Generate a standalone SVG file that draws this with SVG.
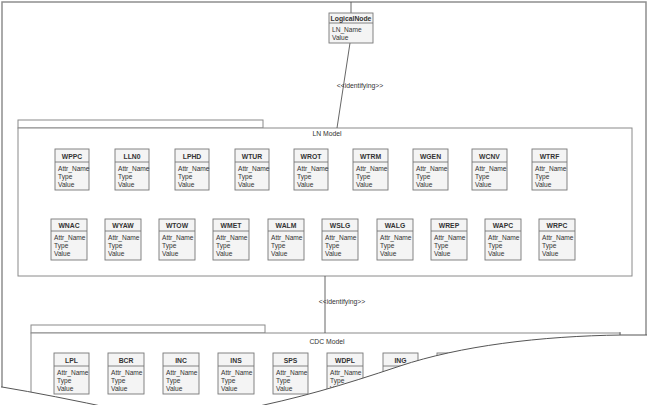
<svg xmlns="http://www.w3.org/2000/svg" width="648" height="405" viewBox="0 0 648 405">
<style>
text{font-family:"Liberation Sans",Arial,sans-serif;fill:#333;}
.nm{font-size:6.8px;font-weight:bold;text-anchor:middle;}
.at{font-size:6.6px;}
.lbl{font-size:6.8px;}
.box{fill:#f4f4f4;stroke:#777;stroke-width:0.9;}
.div{stroke:#777;stroke-width:0.9;}
.cont{fill:#fff;stroke:#8a8a8a;stroke-width:1;}
.frame{fill:none;stroke:#8f8f8f;stroke-width:1.5;}
.conn{fill:none;stroke:#555;stroke-width:0.9;}
.torn{fill:none;stroke:#555;stroke-width:1;}
</style>
<rect width="648" height="405" fill="#fff"/>
<g id="frame">
<path class="frame" d="M2 405 V2 H646 V340"/>
</g>
<g id="ln-model">
<rect class="cont" x="18" y="120" width="245" height="8"/>
<rect class="cont" x="18" y="128" width="614" height="148"/>
<text class="lbl" x="327" y="136" text-anchor="middle">LN Model</text>
</g>
<g id="cdc-model">
<rect class="cont" x="31" y="325" width="234" height="8"/>
<rect class="cont" x="31" y="333" width="589" height="80"/>
<text class="lbl" x="327" y="344" text-anchor="middle">CDC Model</text>
</g>
<g id="connectors">
<line class="conn" x1="351" y1="2" x2="351" y2="13"/>
<line class="conn" x1="350" y1="43" x2="337" y2="128"/>
<text class="lbl" x="360" y="88" text-anchor="middle">&lt;&lt;identifying&gt;&gt;</text>
<line class="conn" x1="325" y1="276" x2="325" y2="333"/>
<text class="lbl" x="342" y="304" text-anchor="middle">&lt;&lt;identifying&gt;&gt;</text>
</g>
<g id="LogicalNode" transform="translate(329,13)">
<rect class="box" width="44" height="30"/><line class="div" x1="0" y1="10" x2="44" y2="10"/>
<text class="nm" x="22" y="7.5">LogicalNode</text>
<text class="at" x="3" y="19">LN_Name</text><text class="at" x="3" y="26.5">Value</text>
</g>
<!-- LN row 1 -->
<g id="WPPC" transform="translate(55,149)"><rect class="box" width="34" height="41"/><line class="div" x1="0" y1="13" x2="34" y2="13"/><text class="nm" x="17" y="9.5">WPPC</text><text class="at" x="3" y="22">Attr_Name</text><text class="at" x="3" y="30">Type</text><text class="at" x="3" y="37.5">Value</text></g>
<g id="LLN0" transform="translate(115,149)"><rect class="box" width="34" height="41"/><line class="div" x1="0" y1="13" x2="34" y2="13"/><text class="nm" x="17" y="9.5">LLN0</text><text class="at" x="3" y="22">Attr_Name</text><text class="at" x="3" y="30">Type</text><text class="at" x="3" y="37.5">Value</text></g>
<g id="LPHD" transform="translate(175,149)"><rect class="box" width="34" height="41"/><line class="div" x1="0" y1="13" x2="34" y2="13"/><text class="nm" x="17" y="9.5">LPHD</text><text class="at" x="3" y="22">Attr_Name</text><text class="at" x="3" y="30">Type</text><text class="at" x="3" y="37.5">Value</text></g>
<g id="WTUR" transform="translate(235,149)"><rect class="box" width="34" height="41"/><line class="div" x1="0" y1="13" x2="34" y2="13"/><text class="nm" x="17" y="9.5">WTUR</text><text class="at" x="3" y="22">Attr_Name</text><text class="at" x="3" y="30">Type</text><text class="at" x="3" y="37.5">Value</text></g>
<g id="WROT" transform="translate(294,149)"><rect class="box" width="34" height="41"/><line class="div" x1="0" y1="13" x2="34" y2="13"/><text class="nm" x="17" y="9.5">WROT</text><text class="at" x="3" y="22">Attr_Name</text><text class="at" x="3" y="30">Type</text><text class="at" x="3" y="37.5">Value</text></g>
<g id="WTRM" transform="translate(353,149)"><rect class="box" width="35" height="41"/><line class="div" x1="0" y1="13" x2="35" y2="13"/><text class="nm" x="17.5" y="9.5">WTRM</text><text class="at" x="3" y="22">Attr_Name</text><text class="at" x="3" y="30">Type</text><text class="at" x="3" y="37.5">Value</text></g>
<g id="WGEN" transform="translate(413,149)"><rect class="box" width="35" height="41"/><line class="div" x1="0" y1="13" x2="35" y2="13"/><text class="nm" x="17.5" y="9.5">WGEN</text><text class="at" x="3" y="22">Attr_Name</text><text class="at" x="3" y="30">Type</text><text class="at" x="3" y="37.5">Value</text></g>
<g id="WCNV" transform="translate(472,149)"><rect class="box" width="35" height="41"/><line class="div" x1="0" y1="13" x2="35" y2="13"/><text class="nm" x="17.5" y="9.5">WCNV</text><text class="at" x="3" y="22">Attr_Name</text><text class="at" x="3" y="30">Type</text><text class="at" x="3" y="37.5">Value</text></g>
<g id="WTRF" transform="translate(532,149)"><rect class="box" width="35" height="41"/><line class="div" x1="0" y1="13" x2="35" y2="13"/><text class="nm" x="17.5" y="9.5">WTRF</text><text class="at" x="3" y="22">Attr_Name</text><text class="at" x="3" y="30">Type</text><text class="at" x="3" y="37.5">Value</text></g>
<!-- LN row 2 -->
<g id="WNAC" transform="translate(51,219)"><rect class="box" width="36" height="41"/><line class="div" x1="0" y1="12" x2="36" y2="12"/><text class="nm" x="18" y="9">WNAC</text><text class="at" x="3" y="21">Attr_Name</text><text class="at" x="3" y="29">Type</text><text class="at" x="3" y="36.5">Value</text></g>
<g id="WYAW" transform="translate(105,219)"><rect class="box" width="36" height="41"/><line class="div" x1="0" y1="12" x2="36" y2="12"/><text class="nm" x="18" y="9">WYAW</text><text class="at" x="3" y="21">Attr_Name</text><text class="at" x="3" y="29">Type</text><text class="at" x="3" y="36.5">Value</text></g>
<g id="WTOW" transform="translate(159,219)"><rect class="box" width="36" height="41"/><line class="div" x1="0" y1="12" x2="36" y2="12"/><text class="nm" x="18" y="9">WTOW</text><text class="at" x="3" y="21">Attr_Name</text><text class="at" x="3" y="29">Type</text><text class="at" x="3" y="36.5">Value</text></g>
<g id="WMET" transform="translate(213,219)"><rect class="box" width="36" height="41"/><line class="div" x1="0" y1="12" x2="36" y2="12"/><text class="nm" x="18" y="9">WMET</text><text class="at" x="3" y="21">Attr_Name</text><text class="at" x="3" y="29">Type</text><text class="at" x="3" y="36.5">Value</text></g>
<g id="WALM" transform="translate(268,219)"><rect class="box" width="36" height="41"/><line class="div" x1="0" y1="12" x2="36" y2="12"/><text class="nm" x="18" y="9">WALM</text><text class="at" x="3" y="21">Attr_Name</text><text class="at" x="3" y="29">Type</text><text class="at" x="3" y="36.5">Value</text></g>
<g id="WSLG" transform="translate(322,219)"><rect class="box" width="36" height="41"/><line class="div" x1="0" y1="12" x2="36" y2="12"/><text class="nm" x="18" y="9">WSLG</text><text class="at" x="3" y="21">Attr_Name</text><text class="at" x="3" y="29">Type</text><text class="at" x="3" y="36.5">Value</text></g>
<g id="WALG" transform="translate(377,219)"><rect class="box" width="36" height="41"/><line class="div" x1="0" y1="12" x2="36" y2="12"/><text class="nm" x="18" y="9">WALG</text><text class="at" x="3" y="21">Attr_Name</text><text class="at" x="3" y="29">Type</text><text class="at" x="3" y="36.5">Value</text></g>
<g id="WREP" transform="translate(431,219)"><rect class="box" width="36" height="41"/><line class="div" x1="0" y1="12" x2="36" y2="12"/><text class="nm" x="18" y="9">WREP</text><text class="at" x="3" y="21">Attr_Name</text><text class="at" x="3" y="29">Type</text><text class="at" x="3" y="36.5">Value</text></g>
<g id="WAPC" transform="translate(485,219)"><rect class="box" width="36" height="41"/><line class="div" x1="0" y1="12" x2="36" y2="12"/><text class="nm" x="18" y="9">WAPC</text><text class="at" x="3" y="21">Attr_Name</text><text class="at" x="3" y="29">Type</text><text class="at" x="3" y="36.5">Value</text></g>
<g id="WRPC" transform="translate(539,219)"><rect class="box" width="36" height="41"/><line class="div" x1="0" y1="12" x2="36" y2="12"/><text class="nm" x="18" y="9">WRPC</text><text class="at" x="3" y="21">Attr_Name</text><text class="at" x="3" y="29">Type</text><text class="at" x="3" y="36.5">Value</text></g>
<!-- CDC row -->
<g id="LPL" transform="translate(54,353)"><rect class="box" width="35" height="41"/><line class="div" x1="0" y1="13" x2="35" y2="13"/><text class="nm" x="17.5" y="9.5">LPL</text><text class="at" x="3" y="22">Attr_Name</text><text class="at" x="3" y="30">Type</text><text class="at" x="3" y="37.5">Value</text></g>
<g id="BCR" transform="translate(108,353)"><rect class="box" width="36" height="41"/><line class="div" x1="0" y1="13" x2="36" y2="13"/><text class="nm" x="18" y="9.5">BCR</text><text class="at" x="3" y="22">Attr_Name</text><text class="at" x="3" y="30">Type</text><text class="at" x="3" y="37.5">Value</text></g>
<g id="INC" transform="translate(163,353)"><rect class="box" width="36" height="41"/><line class="div" x1="0" y1="13" x2="36" y2="13"/><text class="nm" x="18" y="9.5">INC</text><text class="at" x="3" y="22">Attr_Name</text><text class="at" x="3" y="30">Type</text><text class="at" x="3" y="37.5">Value</text></g>
<g id="INS" transform="translate(218,353)"><rect class="box" width="36" height="41"/><line class="div" x1="0" y1="13" x2="36" y2="13"/><text class="nm" x="18" y="9.5">INS</text><text class="at" x="3" y="22">Attr_Name</text><text class="at" x="3" y="30">Type</text><text class="at" x="3" y="37.5">Value</text></g>
<g id="SPS" transform="translate(273,353)"><rect class="box" width="35" height="41"/><line class="div" x1="0" y1="13" x2="35" y2="13"/><text class="nm" x="17.5" y="9.5">SPS</text><text class="at" x="3" y="22">Attr_Name</text><text class="at" x="3" y="30">Type</text><text class="at" x="3" y="37.5">Value</text></g>
<g id="WDPL" transform="translate(327,353)"><rect class="box" width="36" height="41"/><line class="div" x1="0" y1="13" x2="36" y2="13"/><text class="nm" x="18" y="9.5">WDPL</text><text class="at" x="3" y="22">Attr_Name</text><text class="at" x="3" y="30">Type</text><text class="at" x="3" y="37.5">Value</text></g>
<g id="ING" transform="translate(383,353)"><rect class="box" width="35" height="41"/><line class="div" x1="0" y1="13" x2="35" y2="13"/><text class="nm" x="17.5" y="9.5">ING</text><text class="at" x="3" y="22">Attr_Name</text></g>
<g id="CDC8" transform="translate(437,353)"><rect class="box" width="35" height="41"/></g>
<g id="torn-edge">
<path fill="#fff" d="M648 335 L622 335 C540 336 460 346 400 366 S300 398 240 410 L648 410 Z"/>
<path fill="#fff" d="M0 387 L2 387 Q50 395 120 410 L0 410 Z"/>
<path class="torn" d="M647 335 L622 335 C540 336 460 346 400 366 S300 398 240 410"/>
<path class="torn" d="M1 387 L2 387 Q50 395 120 410"/>
<line x1="620" y1="332" x2="620" y2="335" stroke="#777" stroke-width="1"/>
</g>
</svg>
